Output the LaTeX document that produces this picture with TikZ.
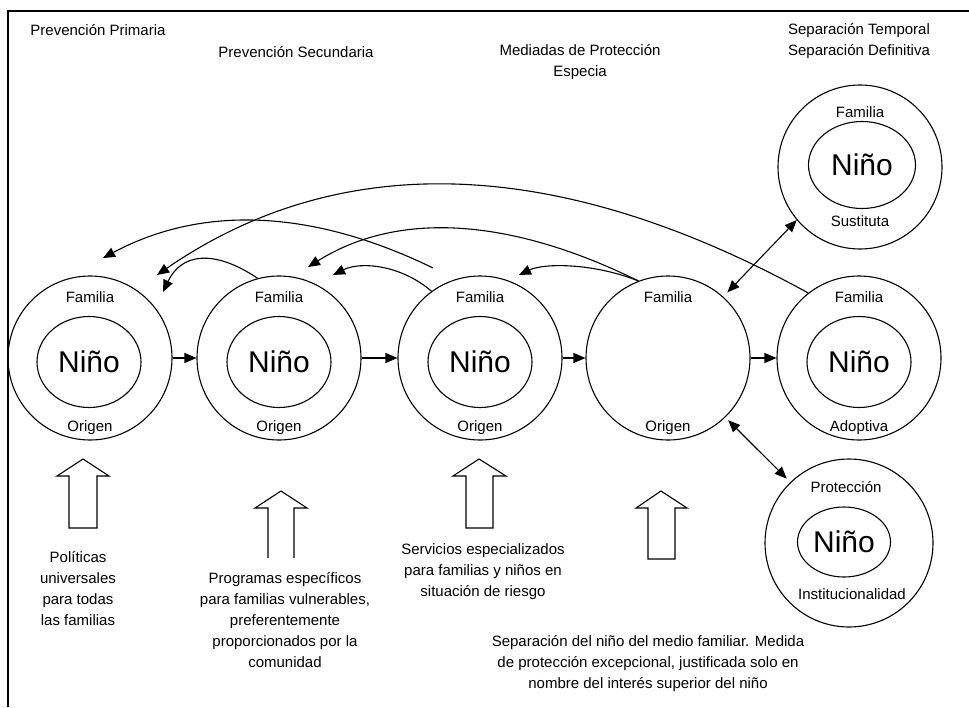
\documentclass[tikz,border=0pt]{standalone}
\usepackage{fontspec}
\setmainfont{Liberation Sans}
\usetikzlibrary{arrows.meta,shapes.geometric}

\begin{document}
\begin{tikzpicture}[
    x=1pt,y=-1pt,
    outer/.style={draw,circle,line width=1.1pt,minimum size=164pt,inner sep=0pt},
    inner/.style={draw,ellipse,line width=1.1pt,minimum width=104pt,minimum height=91pt,
                  inner sep=0pt,font=\fontsize{30}{34}\selectfont},
    lbl/.style={inner sep=0pt,anchor=base,font=\fontsize{15}{21}\selectfont},
    note/.style={inner sep=0pt,align=center,font=\fontsize{15}{21}\selectfont},
    arrow/.style={-{Triangle[length=12pt,width=10pt]},line width=1.1pt},
    twoway/.style={{Triangle[length=12pt,width=10pt]}-{Triangle[length=12pt,width=10pt]},
                   line width=1.1pt},
    bigarrow/.style={draw,line width=1.1pt}
  ]
    \useasboundingbox (0,0) rectangle (969,707);
    \draw[line width=1.6pt] (8,707) -- (8,11) -- (969,11);

    % headings
    \node[lbl] (prim) at (98,35) {Prevención Primaria};
    \node[lbl] (secu) at (296,57) {Prevención Secundaria};
    \node[note] (espe) at (580,62) {Mediadas de Protección\\Especia};
    \node[note] (sepa) at (859,41) {Separación Temporal\\Separación Definitiva};

    % families
    \node[outer] (c1) at (90,358) {};
    \node[outer] (c2) at (279,358) {};
    \node[outer] (c3) at (480,358) {};
    \node[outer] (c4) at (668,358) {};
    \node[outer] (c5) at (859,358) {};
    \node[outer] (cs) at (860,167) {};
    \node[outer,minimum size=168pt] (cp) at (849,543) {};

    \node[inner] (n1) at (89,362) {Niño};
    \node[inner] (n2) at (279,362) {Niño};
    \node[inner] (n3) at (480,362) {Niño};
    \node[inner] (n5) at (859,362) {Niño};
    \node[inner,minimum width=107pt,minimum height=87pt] (ns) at (862,165) {Niño};
    \node[inner,minimum width=93pt,minimum height=70pt] (np) at (844,542) {Niño};

    \node[lbl] (f1) at (90,302) {Familia};
    \node[lbl] (f2) at (279,302) {Familia};
    \node[lbl] (f3) at (480,302) {Familia};
    \node[lbl] (f4) at (668,302) {Familia};
    \node[lbl] (f5) at (859,302) {Familia};
    \node[lbl] (o1) at (90,431) {Origen};
    \node[lbl] (o2) at (279,431) {Origen};
    \node[lbl] (o3) at (480,431) {Origen};
    \node[lbl] (o4) at (668,431) {Origen};
    \node[lbl] (adop) at (859,431) {Adoptiva};
    \node[lbl] (fs) at (860,117) {Familia};
    \node[lbl] (sust) at (860,226) {Sustituta};
    \node[lbl] (prot) at (846,492) {Protección};
    \node[lbl] (inst) at (852,599) {Institucionalidad};

    % notes under the block arrows
    \node[note] (pol) at (78,589) {Políticas\\universales\\para todas\\las familias};
    \node[note] (prog) at (285,620) {Programas específicos\\para familias vulnerables,\\preferentemente\\proporcionados por la\\comunidad};
    \node[note] (serv) at (483,572) {Servicios especializados\\para familias y niños en\\situación de riesgo};
    \node[note] (sepn) at (648,664) {Separación del niño del medio familiar. Medida\\de protección excepcional, justificada solo en\\nombre del interés superior del niño};

    % block arrows
    \draw[bigarrow] (69,528) -- (69,476) -- (57,476) -- (83,459) -- (109,476) -- (97,476) -- (97,528) -- cycle;
    \draw[bigarrow] (268,558) -- (268,508) -- (255,508) -- (281,491) -- (307,508) -- (294,508) -- (294,558);
    \draw[bigarrow] (466,528) -- (466,476) -- (453,476) -- (479,459) -- (506,476) -- (493,476) -- (493,528) -- cycle;
    \draw[bigarrow] (648,559) -- (648,508) -- (636,508) -- (661,491) -- (687,508) -- (675,508) -- (675,559) -- cycle;

    % forward arrows
    \draw[arrow] (c1) -- (c2);
    \draw[arrow] (c2) -- (c3);
    \draw[arrow] (c3) -- (c4);
    \draw[arrow] (c4) -- (c5);
    \draw[twoway,shorten <=6pt] (c4.48) -- (cs.220);
    \draw[twoway,shorten <=4pt,shorten >=5pt] (c4.-46) -- (cp.134);

    % arrows back
    \coordinate (a0) at (433,268);
    \coordinate (ta) at (103,258);
    \coordinate (tb) at (163,292);
    \coordinate (tc) at (157,275);
    \coordinate (td) at (308,267);
    \coordinate (te) at (519,275);
    \coordinate (tf) at (333,275);
    \draw[arrow] (a0) .. controls +(-121,-59) and +(99,-53) .. (ta);
    \draw[arrow] (c2.105) .. controls +(-45,-30) and +(18,-38) .. (tb);
    \draw[arrow] (c5.128) .. controls +(-251,-138) and +(183,-126) .. (tc);
    \draw[arrow] (c4.111) .. controls +(-132,-65) and +(88,-55) .. (td);
    \draw[arrow] (c4.111) .. controls +(-45,-18) and +(25,-12) .. (te);
    \draw[arrow] (c3.126) .. controls +(-30,-26) and +(28,-14) .. (tf);
\end{tikzpicture}
\end{document}
